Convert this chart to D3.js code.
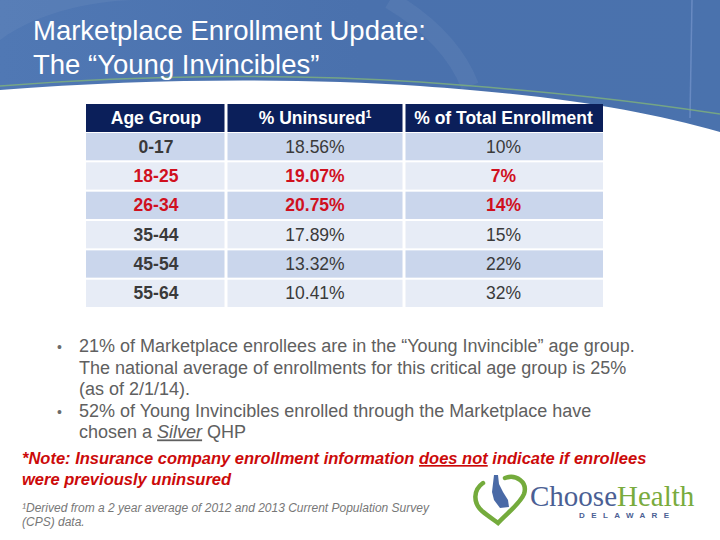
<!DOCTYPE html>
<html>
<head>
<meta charset="utf-8">
<script src="https://cdn.jsdelivr.net/npm/d3@7"></script>
<style>
  body { margin: 0; background: #fff; }
  svg { display: block; font-family: "Liberation Sans", Arial, sans-serif; }
</style>
</head>
<body>
<svg></svg>
<script>
var width = 720,
    height = 540

// table data
var columns = ["Age Group", "% Uninsured", "% of Total Enrollment"]
var ageGroups = ["0-17", "18-25", "26-34", "35-44", "45-54", "55-64"]
var uninsured = ["18.56%", "19.07%", "20.75%", "17.89%", "13.32%", "10.41%"]
var enrollment = ["10%", "7%", "14%", "15%", "22%", "32%"]
var youngInvincible = [false, true, true, false, false, false]

var titleLines = ["Marketplace Enrollment Update:", "The \u201cYoung Invincibles\u201d"]
var bullets = [
  ["21% of Marketplace enrollees are in the \u201cYoung Invincible\u201d age group.",
   "The national average of enrollments for this critical age group is 25%",
   "(as of 2/1/14)."],
  ["52% of Young Invincibles enrolled through the Marketplace have",
   "chosen a |Silver| QHP"]
]
var footnote = ["\u00b9Derived from a 2 year average of 2012 and 2013 Current Population Survey",
                "(CPS) data."]

var svg = d3.select("svg").attr("width", width).attr("height", height)

// header band
var defs = svg.append("defs")
var grad = defs.append("linearGradient").attr("id", "hdr").attr("x1", 0).attr("y1", 0).attr("x2", 1).attr("y2", 0)
grad.append("stop").attr("offset", "0%").attr("stop-color", "#5078b4")
grad.append("stop").attr("offset", "50%").attr("stop-color", "#4a71ad")
grad.append("stop").attr("offset", "100%").attr("stop-color", "#4a72ad")

svg.append("path")
  .attr("d", "M0,0 H720 V132 C640,110 560,96 420,86 C300,78 150,78 0,90 Z")
  .attr("fill", "url(#hdr)")
// faint arcs in the band
svg.append("path")
  .attr("d", "M0,40 C40,10 100,0 140,0 L0,0 Z")
  .attr("fill", "#ffffff").attr("fill-opacity", 0.05)
svg.append("path")
  .attr("d", "M390,0 C440,30 460,60 470,86")
  .attr("fill", "none").attr("stroke", "#ffffff").attr("stroke-opacity", 0.05).attr("stroke-width", 18)
svg.append("line")
  .attr("x1", 692).attr("y1", 0).attr("x2", 690).attr("y2", 118)
  .attr("stroke", "#7d9bd0").attr("stroke-width", 1.5).attr("stroke-opacity", 0.6)
// green line along the curve
svg.append("path")
  .attr("d", "M0,86 C150,74 300,74 420,82 C560,92 640,102 720,114")
  .attr("fill", "none").attr("stroke", "#7fb27a").attr("stroke-width", 1.5).attr("stroke-opacity", 0.8)

svg.selectAll(".title")
  .data(titleLines)
  .enter().append("text")
  .attr("class", "title")
  .attr("x", 33)
  .attr("y", function(d, i) { return 40 + i * 34 })
  .attr("fill", "#ffffff")
  .attr("font-size", 27.5)
  .text(function(d) { return d })

// table
var tableTop = 104
var colEdges = [86, 226, 404, 603]
var headerH = 28, rowH = 29

var rowScale = d3.scaleBand()
  .domain(ageGroups)
  .range([tableTop + headerH + 1, tableTop + headerH + 1 + rowH * ageGroups.length])
  .paddingInner(0.07)
  .paddingOuter(0)

// header cells
svg.selectAll(".hcell")
  .data(columns)
  .enter().append("rect")
  .attr("x", function(d, i) { return colEdges[i] + (i > 0 ? 1.5 : 0) })
  .attr("y", tableTop)
  .attr("width", function(d, i) { return colEdges[i + 1] - colEdges[i] - (i > 0 ? 1.5 : 0) - (i < 2 ? 1.5 : 0) })
  .attr("height", headerH)
  .attr("fill", "#0b1f5a")

var htext = svg.selectAll(".htext")
  .data(columns)
  .enter().append("text")
  .attr("x", function(d, i) { return (colEdges[i] + colEdges[i + 1]) / 2 })
  .attr("y", tableTop + 20)
  .attr("text-anchor", "middle")
  .attr("fill", "#ffffff")
  .attr("font-weight", "bold")
  .attr("font-size", 17.5)
  .text(function(d) { return d })
htext.filter(function(d) { return d === "% Uninsured" })
  .append("tspan").attr("dy", -6).attr("font-size", 10).text("1")

var rows = ageGroups.map(function(g, i) {
  return { group: g, values: [g, uninsured[i], enrollment[i]], hot: youngInvincible[i], idx: i }
})

var rowG = svg.selectAll(".row")
  .data(rows)
  .enter().append("g")
  .attr("transform", function(d) { return "translate(0," + rowScale(d.group) + ")" })

rowG.selectAll("rect")
  .data(function(d) { return d.values.map(function(v, j) { return { v: v, j: j, row: d } }) })
  .enter().append("rect")
  .attr("x", function(d) { return colEdges[d.j] + (d.j > 0 ? 1.5 : 0) })
  .attr("width", function(d) { return colEdges[d.j + 1] - colEdges[d.j] - (d.j > 0 ? 1.5 : 0) - (d.j < 2 ? 1.5 : 0) })
  .attr("height", rowScale.bandwidth())
  .attr("fill", function(d) { return d.row.idx % 2 === 0 ? "#cad6ec" : "#e7ecf6" })

rowG.selectAll("text")
  .data(function(d) { return d.values.map(function(v, j) { return { v: v, j: j, row: d } }) })
  .enter().append("text")
  .attr("x", function(d) { return (colEdges[d.j] + colEdges[d.j + 1]) / 2 })
  .attr("y", rowScale.bandwidth() / 2 + 6)
  .attr("text-anchor", "middle")
  .attr("font-size", 17.5)
  .attr("font-weight", function(d) { return (d.j === 0 || d.row.hot) ? "bold" : "normal" })
  .attr("fill", function(d) { return d.row.hot ? "#d0101e" : "#3a3a3a" })
  .text(function(d) { return d.v })

// bullets
var lineH = 21.6
var bulletY = 352
var lines = []
bullets.forEach(function(b) {
  b.forEach(function(t, k) { lines.push({ text: t, first: k === 0 }) })
})

var bl = svg.selectAll(".bline")
  .data(lines)
  .enter().append("g")
  .attr("transform", function(d, i) { return "translate(0," + (bulletY + i * lineH) + ")" })

bl.filter(function(d) { return d.first })
  .append("text").attr("x", 57).attr("fill", "#6b6b6b").attr("font-size", 14).text("\u2022")

bl.append("text")
  .attr("x", 79)
  .attr("fill", "#606060")
  .attr("font-size", 18)
  .each(function(d) {
    var parts = d.text.split("|")
    var t = d3.select(this)
    parts.forEach(function(p, k) {
      var s = t.append("tspan").text(p)
      if (k % 2 === 1) s.attr("font-style", "italic").attr("text-decoration", "underline")
    })
  })

// note
var note = svg.append("g").attr("fill", "#cc0a0a").attr("font-weight", "bold").attr("font-style", "italic").attr("font-size", 16.5)
var n1 = note.append("text").attr("x", 22).attr("y", 464)
n1.append("tspan").text("*Note: ")
n1.append("tspan").text("Insurance company enrollment information ")
n1.append("tspan").attr("text-decoration", "underline").text("does not")
n1.append("tspan").text(" indicate if enrollees")
note.append("text").attr("x", 22).attr("y", 485).text("were previously uninsured")

svg.selectAll(".foot")
  .data(footnote)
  .enter().append("text")
  .attr("x", 22)
  .attr("y", function(d, i) { return 512 + i * 14 })
  .attr("fill", "#777777")
  .attr("font-style", "italic")
  .attr("font-size", 12)
  .text(function(d) { return d })

// logo
var logo = svg.append("g")
logo.append("path")
  .attr("d", "M483,483 C473,490 473,503 482,511 C488,516 494,520 498,523 C506,514 520,504 524,494 C528,482 516,474 505,478")
  .attr("fill", "none").attr("stroke", "#74ab3c").attr("stroke-width", 4.5).attr("stroke-linecap", "round")
logo.append("path")
  .attr("d", "M494,475 L498,475 L499,484 L503,492 L508,500 L509,507 L500,508 L494,500 L492,492 Z")
  .attr("fill", "#4a6aa6")
var brand = logo.append("text").attr("x", 530).attr("y", 506).attr("font-family", "'Liberation Serif', serif").attr("font-size", 29)
brand.append("tspan").attr("fill", "#4b5f94").text("Choose")
brand.append("tspan").attr("fill", "#79ab3d").text("Health")
logo.append("text").attr("x", 579).attr("y", 518).attr("font-size", 8).attr("font-weight", "bold")
  .attr("letter-spacing", 6.4).attr("fill", "#4b5f94").text("DELAWARE")
</script>
</body>
</html>
